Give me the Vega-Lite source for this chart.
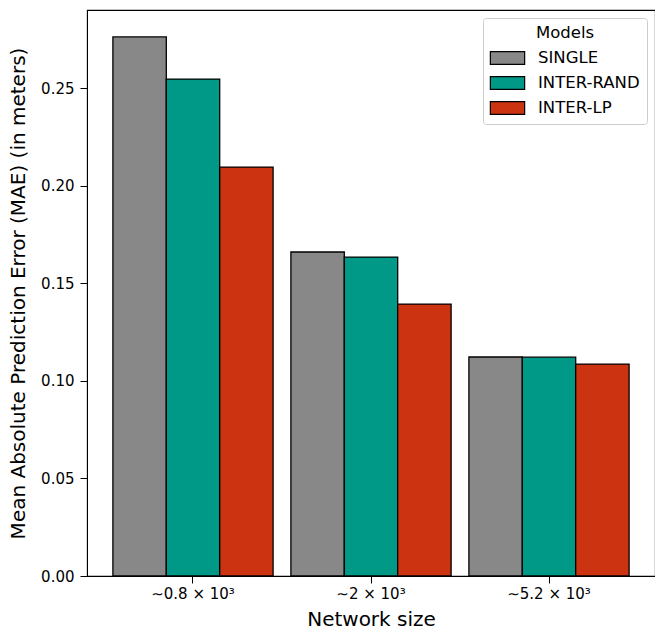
{
  "$schema": "https://vega.github.io/schema/vega-lite/v6.json",
  "width": 568,
  "height": 566,
  "autosize": {"type": "none"},
  "padding": {"left": 87, "top": 10, "right": 0, "bottom": 55},
  "background": "white",
  "config": {
    "font": "DejaVu Sans",
    "view": {"stroke": "black", "strokeWidth": 1.1},
    "axis": {"grid": false, "domainColor": "black", "tickColor": "black", "labelColor": "black", "titleColor": "black", "labelFont": "DejaVu Sans", "titleFont": "DejaVu Sans", "titleFontWeight": "normal", "labelFontSize": 15, "titleFontSize": 20, "tickSize": 7},
    "axisY": {"labelPadding": 6, "titlePadding": 12},
    "axisX": {"labelPadding": 3, "titlePadding": 8}
  },
  "data": {
    "values": [
      {"size": "∼0.8 × 10³", "model": "SINGLE", "mae": 0.2762},
      {"size": "∼0.8 × 10³", "model": "INTER-RAND", "mae": 0.2546},
      {"size": "∼0.8 × 10³", "model": "INTER-LP", "mae": 0.2095},
      {"size": "∼2 × 10³", "model": "SINGLE", "mae": 0.1660},
      {"size": "∼2 × 10³", "model": "INTER-RAND", "mae": 0.1634},
      {"size": "∼2 × 10³", "model": "INTER-LP", "mae": 0.1393},
      {"size": "∼5.2 × 10³", "model": "SINGLE", "mae": 0.1122},
      {"size": "∼5.2 × 10³", "model": "INTER-RAND", "mae": 0.1121},
      {"size": "∼5.2 × 10³", "model": "INTER-LP", "mae": 0.1086}
    ]
  },
  "mark": {"type": "bar", "stroke": "black", "strokeWidth": 1.3},
  "encoding": {
    "x": {
      "field": "size", "type": "nominal", "sort": null,
      "scale": {"paddingInner": 0.1, "paddingOuter": 0.1455},
      "axis": {"title": "Network size", "labelAngle": 0}
    },
    "xOffset": {
      "field": "model", "type": "nominal",
      "sort": ["SINGLE", "INTER-RAND", "INTER-LP"],
      "scale": {"paddingInner": 0, "paddingOuter": 0}
    },
    "y": {
      "field": "mae", "type": "quantitative",
      "scale": {"domain": [0, 0.29], "nice": false, "zero": true},
      "axis": {"title": "Mean Absolute Prediction Error (MAE) (in meters)", "values": [0, 0.05, 0.1, 0.15, 0.2, 0.25], "format": ".2f"}
    },
    "fill": {
      "field": "model", "type": "nominal",
      "sort": ["SINGLE", "INTER-RAND", "INTER-LP"],
      "scale": {"domain": ["SINGLE", "INTER-RAND", "INTER-LP"], "range": ["#888888", "#009988", "#CC3311"]},
      "legend": {
        "title": "Models", "orient": "none", "legendX": 396, "legendY": 8,
        "titleAnchor": "middle", "titleFontSize": 16.5, "titleFontWeight": "normal", "titleColor": "black", "titlePadding": 3,
        "labelFontSize": 16.5, "labelColor": "black",
        "symbolType": "M-1.35,-0.5H1.35V0.5H-1.35Z", "symbolSize": 645,
        "symbolStrokeColor": "black", "symbolStrokeWidth": 1.2, "symbolOpacity": 1,
        "symbolOffset": 4, "labelOffset": 17,
        "strokeColor": "#cccccc", "cornerRadius": 3, "padding": 7, "rowPadding": 2, "fillColor": "white"
      }
    }
  }
}
